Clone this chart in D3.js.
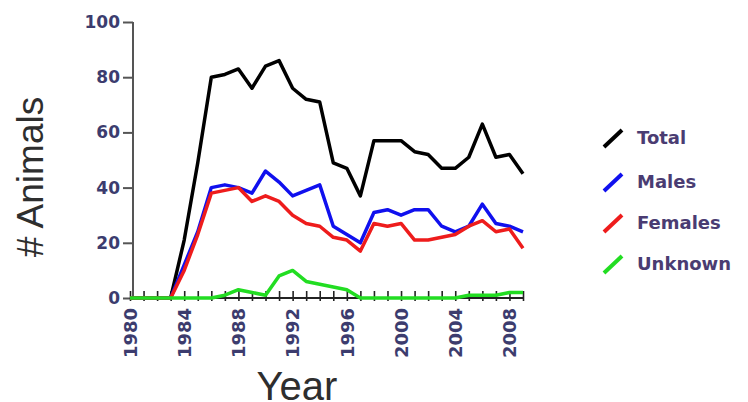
<!DOCTYPE html>
<html>
<head>
<meta charset="utf-8">
<script src="https://cdn.jsdelivr.net/npm/d3@7"></script>
<style>
  body { margin: 0; background: #fff; }
  svg { display: block; font-family: "Liberation Sans", Arial, sans-serif; }
  .tick text { fill: #3c3c6e; font-family: "DejaVu Sans", sans-serif; font-weight: bold; }
  .axis-label { fill: #2e2e2e; }
  .legend text { fill: #4a3c72; font-family: "DejaVu Sans", sans-serif; font-weight: bold; }
</style>
</head>
<body>
<svg width="748" height="402"></svg>
<script>
const svg = d3.select('svg');

const years = d3.range(1980, 2010);
const total   = [0,0,0,0,21,49,80,81,83,76,84,86,76,72,71,49,47,37,57,57,57,53,52,47,47,51,63,51,52,45];
const males   = [0,0,0,0,12,24,40,41,40,38,46,42,37,39,41,26,23,20,31,32,30,32,32,26,24,26,34,27,26,24];
const females = [0,0,0,0,10,23,38,39,40,35,37,35,30,27,26,22,21,17,27,26,27,21,21,22,23,26,28,24,25,18];
const unknown = [0,0,0,0,0,0,0,1,3,2,1,8,10,6,5,4,3,0,0,0,0,0,0,0,0,1,1,1,2,2];

const seriesNames = ['Total', 'Males', 'Females', 'Unknown'];
const seriesColors = ['#000000', '#1010ee', '#ee1c1c', '#22dd22'];
const seriesValues = [total, males, females, unknown];
const xTickYears = [1980, 1984, 1988, 1992, 1996, 2000, 2004, 2008];
const yTicks = [0, 20, 40, 60, 80, 100];

const margin = {top: 22, left: 133};
const innerWidth = 390;
const innerHeight = 276;

const xScale = d3.scaleLinear().domain([1980, 2009]).range([-3, innerWidth]);
const yScale = d3.scaleLinear().domain([0, 100]).range([innerHeight, 0]);

const g = svg.append('g')
    .attr('transform', `translate(${margin.left},${margin.top})`);

// y axis
const yAxisG = g.append('g')
    .call(d3.axisLeft(yScale).tickValues(yTicks).tickSize(10).tickPadding(3));
yAxisG.selectAll('path, line').attr('stroke', '#555').attr('stroke-width', 2);
yAxisG.selectAll('text').attr('font-size', 17);
yAxisG.select('.domain').attr('d', `M0,${innerHeight}V0`);

// x axis: tick every year, label every 4
const xAxisG = g.append('g')
    .attr('transform', `translate(0,${innerHeight})`)
    .call(d3.axisBottom(xScale).tickValues(years).tickSize(3)
        .tickFormat(d => xTickYears.includes(d) ? d : ''));
xAxisG.select('.domain').attr('stroke', '#222').attr('stroke-width', 2)
    .attr('d', `M${xScale(1980)},0H${xScale(2009)}`);
xAxisG.selectAll('line').attr('stroke', '#222').attr('stroke-width', 1.6).attr('y1', -7);
xAxisG.selectAll('.tick').filter(d => !xTickYears.includes(d)).select('text').remove();
xAxisG.selectAll('text')
    .attr('font-size', 18)
    .attr('transform', 'rotate(-90)')
    .attr('text-anchor', 'end')
    .attr('x', -10)
    .attr('y', 0)
    .attr('dy', '0.35em');

// axis titles
g.append('text')
    .attr('class', 'axis-label')
    .attr('transform', 'rotate(-90)')
    .attr('x', -155)
    .attr('y', -90)
    .attr('text-anchor', 'middle')
    .attr('font-size', 37)
    .text('# Animals');

g.append('text')
    .attr('class', 'axis-label')
    .attr('x', 164)
    .attr('y', 378)
    .attr('text-anchor', 'middle')
    .attr('font-size', 40)
    .text('Year');

// lines
const lineGenerator = d3.line()
    .x((d, i) => xScale(years[i]))
    .y(d => yScale(d));

seriesValues.forEach((vals, i) => {
    g.append('path')
        .attr('fill', 'none')
        .attr('stroke', seriesColors[i])
        .attr('stroke-width', 3.5)
        .attr('stroke-linejoin', 'round')
        .attr('d', lineGenerator(vals));
});

// legend
const legend = svg.append('g').attr('class', 'legend')
    .attr('transform', 'translate(604,138)');
const legendItems = legend.selectAll('g')
    .data(seriesNames)
    .join('g')
    .attr('transform', (d, i) => `translate(0,${[0, 44, 85, 126][i]})`);
legendItems.append('line')
    .attr('x1', 0).attr('y1', 9)
    .attr('x2', 18).attr('y2', -8)
    .attr('stroke', (d, i) => seriesColors[i])
    .attr('stroke-width', 4);
legendItems.append('text')
    .attr('x', 33)
    .attr('dy', '0.35em')
    .attr('font-size', 18)
    .text(d => d);
</script>
</body>
</html>
